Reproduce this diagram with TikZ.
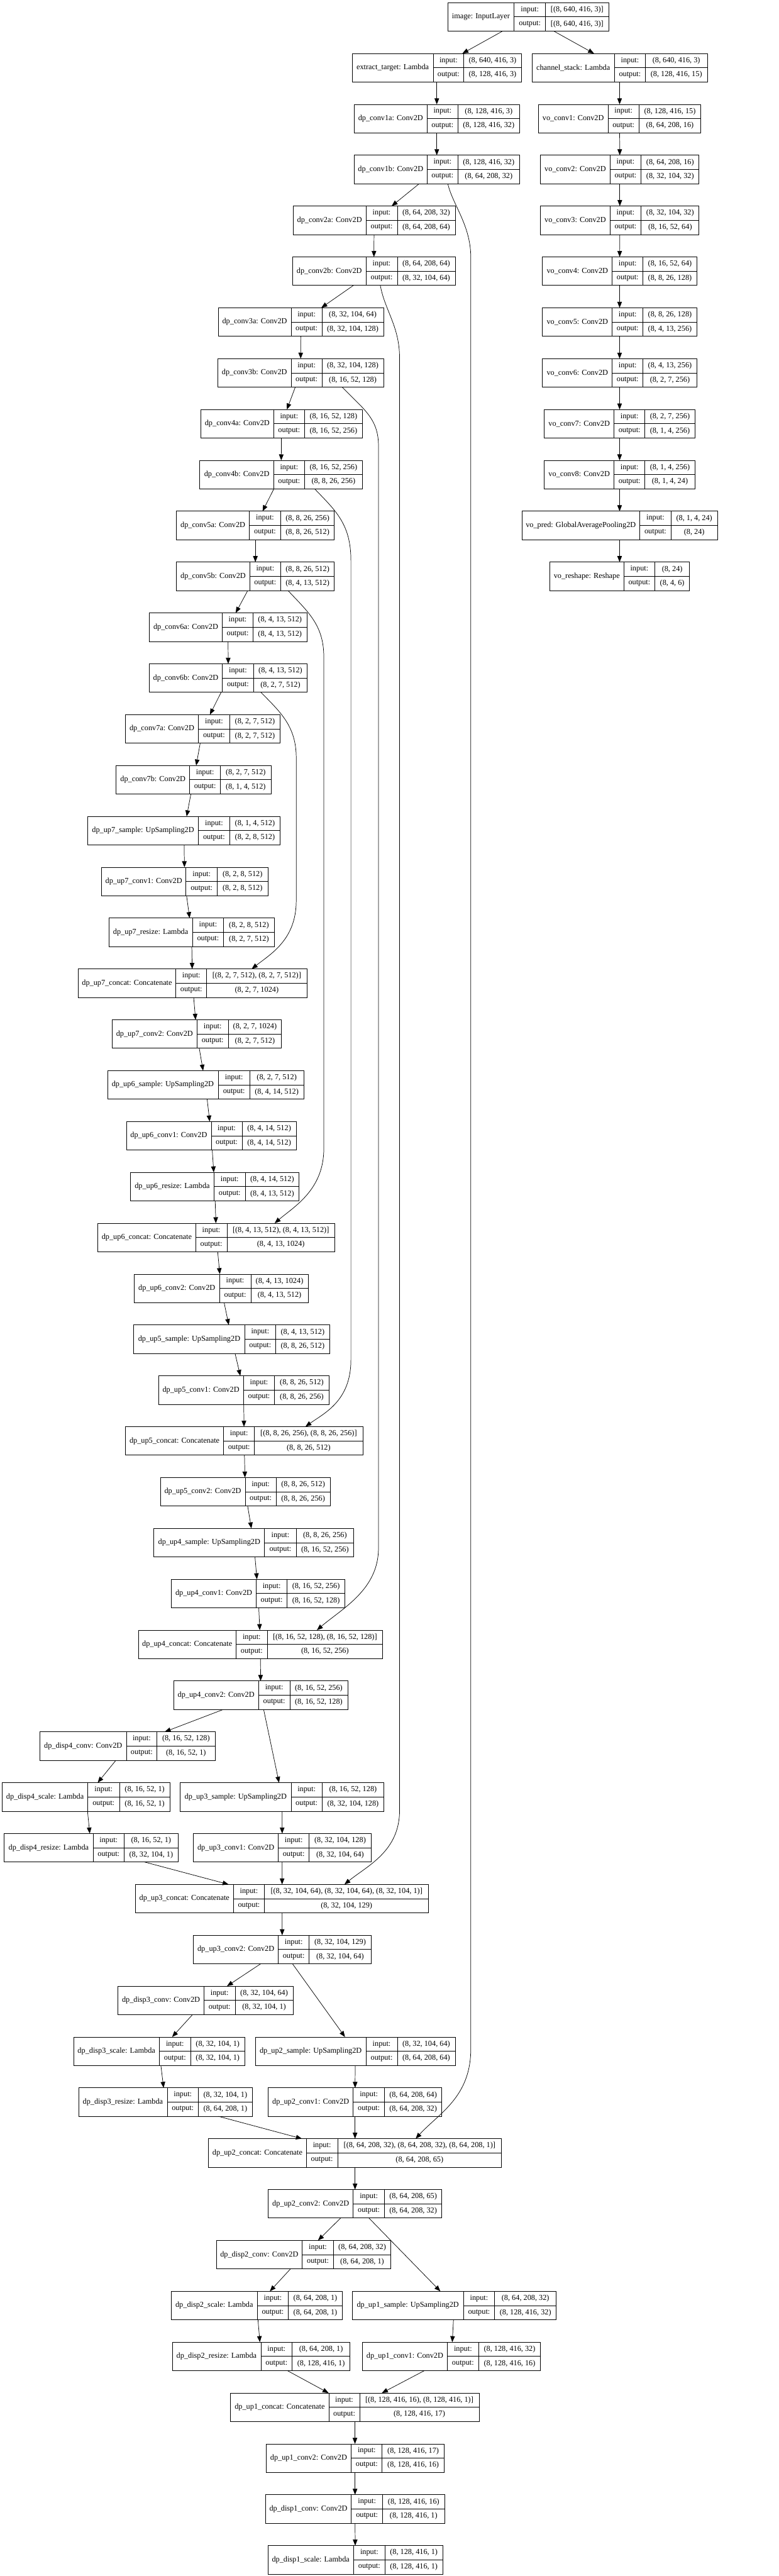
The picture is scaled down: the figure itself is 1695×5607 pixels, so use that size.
\documentclass[tikz,border=0pt]{standalone}
\usepackage{fontspec}
\setmainfont{Liberation Serif}
\usetikzlibrary{arrows.meta,calc}

\tikzset{
  kbox/.style={draw, line width=0.5pt, inner sep=0pt, outer sep=0pt, minimum height=31pt},
  ktxt/.style={inner sep=0pt, font=\fontsize{8.4pt}{10pt}\selectfont},
  arr/.style={-{Triangle[length=6.5pt,width=5pt]}, line width=0.5pt},
}

% name, row, left, split1, split2, right, label, input, output
\newcommand{\klayer}[9]{%
  \pgfmathsetmacro{\ktop}{5.7+110.7*#2}%
  \pgfmathsetmacro{\kmid}{\ktop+31}%
  \pgfmathsetmacro{\kbot}{\ktop+62}%
  \pgfmathsetmacro{\kup}{\ktop+15.5}%
  \pgfmathsetmacro{\kdn}{\ktop+46.5}%
  \node[kbox, minimum width={(#6-#3)*0.5pt}] (#1) at ({(#3+#6)/2},\kmid) {};
  \draw[line width=0.5pt] (#4,\ktop) -- (#4,\kbot) (#5,\ktop) -- (#5,\kbot) (#4,\kmid) -- (#6,\kmid);
  \node[ktxt] (#1-lbl) at ({(#3+#4)/2},\kmid) {#7};
  \node[ktxt] (#1-inl) at ({(#4+#5)/2},\kup) {input:};
  \node[ktxt] (#1-outl) at ({(#4+#5)/2},\kdn) {output:};
  \node[ktxt] (#1-in) at ({(#5+#6)/2},\kup) {#8};
  \node[ktxt] (#1-out) at ({(#5+#6)/2},\kdn) {#9};
}

\begin{document}
\begin{tikzpicture}[x=0.5pt, y=-0.5pt]
    \useasboundingbox (0,0) rectangle (1695,5607);

    \klayer{image}{0}{975}{1119}{1188}{1325}{image: InputLayer}{[(8, 640, 416, 3)]}{[(8, 640, 416, 3)]}
    \klayer{extract_target}{1}{767}{943}{1010}{1135}{extract\_target: Lambda}{(8, 640, 416, 3)}{(8, 128, 416, 3)}
    \klayer{channel_stack}{1}{1158}{1338}{1405}{1540}{channel\_stack: Lambda}{(8, 640, 416, 3)}{(8, 128, 416, 15)}
    \klayer{dp_conv1a}{2}{771}{930}{997}{1131}{dp\_conv1a: Conv2D}{(8, 128, 416, 3)}{(8, 128, 416, 32)}
    \klayer{vo_conv1}{2}{1172}{1324}{1391}{1526}{vo\_conv1: Conv2D}{(8, 128, 416, 15)}{(8, 64, 208, 16)}
    \klayer{dp_conv1b}{3}{771}{930}{997}{1131}{dp\_conv1b: Conv2D}{(8, 128, 416, 32)}{(8, 64, 208, 32)}
    \klayer{vo_conv2}{3}{1177}{1328}{1396}{1522}{vo\_conv2: Conv2D}{(8, 64, 208, 16)}{(8, 32, 104, 32)}
    \klayer{dp_conv2a}{4}{638}{797}{865}{991}{dp\_conv2a: Conv2D}{(8, 64, 208, 32)}{(8, 64, 208, 64)}
    \klayer{vo_conv3}{4}{1177}{1328}{1396}{1522}{vo\_conv3: Conv2D}{(8, 32, 104, 32)}{(8, 16, 52, 64)}
    \klayer{dp_conv2b}{5}{637}{797}{865}{991}{dp\_conv2b: Conv2D}{(8, 64, 208, 64)}{(8, 32, 104, 64)}
    \klayer{vo_conv4}{5}{1181}{1333}{1400}{1517}{vo\_conv4: Conv2D}{(8, 16, 52, 64)}{(8, 8, 26, 128)}
    \klayer{dp_conv3a}{6}{475}{634}{701}{835}{dp\_conv3a: Conv2D}{(8, 32, 104, 64)}{(8, 32, 104, 128)}
    \klayer{vo_conv5}{6}{1181}{1333}{1400}{1517}{vo\_conv5: Conv2D}{(8, 8, 26, 128)}{(8, 4, 13, 256)}
    \klayer{dp_conv3b}{7}{474}{634}{701}{835}{dp\_conv3b: Conv2D}{(8, 32, 104, 128)}{(8, 16, 52, 128)}
    \klayer{vo_conv6}{7}{1181}{1333}{1400}{1517}{vo\_conv6: Conv2D}{(8, 4, 13, 256)}{(8, 2, 7, 256)}
    \klayer{dp_conv4a}{8}{437}{596}{663}{789}{dp\_conv4a: Conv2D}{(8, 16, 52, 128)}{(8, 16, 52, 256)}
    \klayer{vo_conv7}{8}{1185}{1337}{1404}{1513}{vo\_conv7: Conv2D}{(8, 2, 7, 256)}{(8, 1, 4, 256)}
    \klayer{dp_conv4b}{9}{435}{596}{663}{789}{dp\_conv4b: Conv2D}{(8, 16, 52, 256)}{(8, 8, 26, 256)}
    \klayer{vo_conv8}{9}{1185}{1337}{1404}{1513}{vo\_conv8: Conv2D}{(8, 1, 4, 256)}{(8, 1, 4, 24)}
    \klayer{dp_conv5a}{10}{384}{543}{611}{728}{dp\_conv5a: Conv2D}{(8, 8, 26, 256)}{(8, 8, 26, 512)}
    \klayer{vo_pred}{10}{1136}{1393}{1461}{1562}{vo\_pred: GlobalAveragePooling2D}{(8, 1, 4, 24)}{(8, 24)}
    \klayer{dp_conv5b}{11}{384}{544}{611}{728}{dp\_conv5b: Conv2D}{(8, 8, 26, 512)}{(8, 4, 13, 512)}
    \klayer{vo_reshape}{11}{1197}{1358}{1426}{1501}{vo\_reshape: Reshape}{(8, 24)}{(8, 4, 6)}
    \klayer{dp_conv6a}{12}{325}{484}{551}{668}{dp\_conv6a: Conv2D}{(8, 4, 13, 512)}{(8, 4, 13, 512)}
    \klayer{dp_conv6b}{13}{325}{484}{552}{669}{dp\_conv6b: Conv2D}{(8, 4, 13, 512)}{(8, 2, 7, 512)}
    \klayer{dp_conv7a}{14}{273}{432}{500}{610}{dp\_conv7a: Conv2D}{(8, 2, 7, 512)}{(8, 2, 7, 512)}
    \klayer{dp_conv7b}{15}{253}{413}{480}{590}{dp\_conv7b: Conv2D}{(8, 2, 7, 512)}{(8, 1, 4, 512)}
    \klayer{dp_up7_sample}{16}{191}{432}{500}{610}{dp\_up7\_sample: UpSampling2D}{(8, 1, 4, 512)}{(8, 2, 8, 512)}
    \klayer{dp_up7_conv1}{17}{221}{405}{473}{583}{dp\_up7\_conv1: Conv2D}{(8, 2, 8, 512)}{(8, 2, 8, 512)}
    \klayer{dp_up7_resize}{18}{237}{419}{487}{597}{dp\_up7\_resize: Lambda}{(8, 2, 8, 512)}{(8, 2, 7, 512)}
    \klayer{dp_up7_concat}{19}{170}{383}{450}{668}{dp\_up7\_concat: Concatenate}{[(8, 2, 7, 512), (8, 2, 7, 512)]}{(8, 2, 7, 1024)}
    \klayer{dp_up7_conv2}{20}{244}{429}{497}{613}{dp\_up7\_conv2: Conv2D}{(8, 2, 7, 1024)}{(8, 2, 7, 512)}
    \klayer{dp_up6_sample}{21}{234}{475}{544}{661}{dp\_up6\_sample: UpSampling2D}{(8, 2, 7, 512)}{(8, 4, 14, 512)}
    \klayer{dp_up6_conv1}{22}{275}{460}{527}{645}{dp\_up6\_conv1: Conv2D}{(8, 4, 14, 512)}{(8, 4, 14, 512)}
    \klayer{dp_up6_resize}{23}{284}{466}{534}{651}{dp\_up6\_resize: Lambda}{(8, 4, 14, 512)}{(8, 4, 13, 512)}
    \klayer{dp_up6_concat}{24}{213}{426}{494}{729}{dp\_up6\_concat: Concatenate}{[(8, 4, 13, 512), (8, 4, 13, 512)]}{(8, 4, 13, 1024)}
    \klayer{dp_up6_conv2}{25}{292}{478}{546}{671}{dp\_up6\_conv2: Conv2D}{(8, 4, 13, 1024)}{(8, 4, 13, 512)}
    \klayer{dp_up5_sample}{26}{291}{533}{600}{718}{dp\_up5\_sample: UpSampling2D}{(8, 4, 13, 512)}{(8, 8, 26, 512)}
    \klayer{dp_up5_conv1}{27}{345}{530}{598}{716}{dp\_up5\_conv1: Conv2D}{(8, 8, 26, 512)}{(8, 8, 26, 256)}
    \klayer{dp_up5_concat}{28}{273}{487}{554}{790}{dp\_up5\_concat: Concatenate}{[(8, 8, 26, 256), (8, 8, 26, 256)]}{(8, 8, 26, 512)}
    \klayer{dp_up5_conv2}{29}{349}{534}{601}{719}{dp\_up5\_conv2: Conv2D}{(8, 8, 26, 512)}{(8, 8, 26, 256)}
    \klayer{dp_up4_sample}{30}{335}{576}{645}{770}{dp\_up4\_sample: UpSampling2D}{(8, 8, 26, 256)}{(8, 16, 52, 256)}
    \klayer{dp_up4_conv1}{31}{373}{558}{625}{751}{dp\_up4\_conv1: Conv2D}{(8, 16, 52, 256)}{(8, 16, 52, 128)}
    \klayer{dp_up4_concat}{32}{301}{514}{582}{833}{dp\_up4\_concat: Concatenate}{[(8, 16, 52, 128), (8, 16, 52, 128)]}{(8, 16, 52, 256)}
    \klayer{dp_up4_conv2}{33}{378}{563}{631}{757}{dp\_up4\_conv2: Conv2D}{(8, 16, 52, 256)}{(8, 16, 52, 128)}
    \klayer{dp_disp4_conv}{34}{87}{275}{342}{468}{dp\_disp4\_conv: Conv2D}{(8, 16, 52, 128)}{(8, 16, 52, 1)}
    \klayer{dp_disp4_scale}{35}{5}{191}{260}{370}{dp\_disp4\_scale: Lambda}{(8, 16, 52, 1)}{(8, 16, 52, 1)}
    \klayer{dp_up3_sample}{35}{392}{634}{701}{836}{dp\_up3\_sample: UpSampling2D}{(8, 16, 52, 128)}{(8, 32, 104, 128)}
    \klayer{dp_disp4_resize}{36}{9}{203}{270}{388}{dp\_disp4\_resize: Lambda}{(8, 16, 52, 1)}{(8, 32, 104, 1)}
    \klayer{dp_up3_conv1}{36}{421}{606}{673}{808}{dp\_up3\_conv1: Conv2D}{(8, 32, 104, 128)}{(8, 32, 104, 64)}
    \klayer{dp_up3_concat}{37}{295}{508}{576}{933}{dp\_up3\_concat: Concatenate}{[(8, 32, 104, 64), (8, 32, 104, 64), (8, 32, 104, 1)]}{(8, 32, 104, 129)}
    \klayer{dp_up3_conv2}{38}{421}{606}{673}{808}{dp\_up3\_conv2: Conv2D}{(8, 32, 104, 129)}{(8, 32, 104, 64)}
    \klayer{dp_disp3_conv}{39}{257}{444}{512}{638}{dp\_disp3\_conv: Conv2D}{(8, 32, 104, 64)}{(8, 32, 104, 1)}
    \klayer{dp_disp3_scale}{40}{160}{347}{415}{533}{dp\_disp3\_scale: Lambda}{(8, 32, 104, 1)}{(8, 32, 104, 1)}
    \klayer{dp_up2_sample}{40}{556}{797}{865}{991}{dp\_up2\_sample: UpSampling2D}{(8, 32, 104, 64)}{(8, 64, 208, 64)}
    \klayer{dp_disp3_resize}{41}{171}{364}{432}{549}{dp\_disp3\_resize: Lambda}{(8, 32, 104, 1)}{(8, 64, 208, 1)}
    \klayer{dp_up2_conv1}{41}{584}{769}{837}{962}{dp\_up2\_conv1: Conv2D}{(8, 64, 208, 64)}{(8, 64, 208, 32)}
    \klayer{dp_up2_concat}{42}{454}{667}{735}{1092}{dp\_up2\_concat: Concatenate}{[(8, 64, 208, 32), (8, 64, 208, 32), (8, 64, 208, 1)]}{(8, 64, 208, 65)}
    \klayer{dp_up2_conv2}{43}{584}{769}{837}{962}{dp\_up2\_conv2: Conv2D}{(8, 64, 208, 65)}{(8, 64, 208, 32)}
    \klayer{dp_disp2_conv}{44}{471}{658}{726}{851}{dp\_disp2\_conv: Conv2D}{(8, 64, 208, 32)}{(8, 64, 208, 1)}
    \klayer{dp_disp2_scale}{45}{373}{560}{628}{745}{dp\_disp2\_scale: Lambda}{(8, 64, 208, 1)}{(8, 64, 208, 1)}
    \klayer{dp_up1_sample}{45}{767}{1009}{1077}{1211}{dp\_up1\_sample: UpSampling2D}{(8, 64, 208, 32)}{(8, 128, 416, 32)}
    \klayer{dp_disp2_resize}{46}{375}{568}{636}{762}{dp\_disp2\_resize: Lambda}{(8, 64, 208, 1)}{(8, 128, 416, 1)}
    \klayer{dp_up1_conv1}{46}{789}{974}{1042}{1177}{dp\_up1\_conv1: Conv2D}{(8, 128, 416, 32)}{(8, 128, 416, 16)}
    \klayer{dp_up1_concat}{47}{502}{716}{783}{1043}{dp\_up1\_concat: Concatenate}{[(8, 128, 416, 16), (8, 128, 416, 1)]}{(8, 128, 416, 17)}
    \klayer{dp_up1_conv2}{48}{579}{765}{832}{967}{dp\_up1\_conv2: Conv2D}{(8, 128, 416, 17)}{(8, 128, 416, 16)}
    \klayer{dp_disp1_conv}{49}{578}{765}{833}{968}{dp\_disp1\_conv: Conv2D}{(8, 128, 416, 16)}{(8, 128, 416, 1)}
    \klayer{dp_disp1_scale}{50}{583}{770}{838}{964}{dp\_disp1\_scale: Lambda}{(8, 128, 416, 1)}{(8, 128, 416, 1)}

    \draw[arr] (image) -- (extract_target);
    \draw[arr] (image) -- (channel_stack);
    \draw[arr] (extract_target) -- (dp_conv1a);
    \draw[arr] (dp_conv1a) -- (dp_conv1b);
    \draw[arr] (dp_conv1b) -- (dp_conv2a);
    \draw[arr] (dp_conv2a) -- (dp_conv2b);
    \draw[arr] (dp_conv2b) -- (dp_conv3a);
    \draw[arr] (dp_conv3a) -- (dp_conv3b);
    \draw[arr] (dp_conv3b) -- (dp_conv4a);
    \draw[arr] (dp_conv4a) -- (dp_conv4b);
    \draw[arr] (dp_conv4b) -- (dp_conv5a);
    \draw[arr] (dp_conv5a) -- (dp_conv5b);
    \draw[arr] (dp_conv5b) -- (dp_conv6a);
    \draw[arr] (dp_conv6a) -- (dp_conv6b);
    \draw[arr] (dp_conv6b) -- (dp_conv7a);
    \draw[arr] (dp_conv7a) -- (dp_conv7b);
    \draw[arr] (dp_conv7b) -- (dp_up7_sample);
    \draw[arr] (dp_up7_sample) -- (dp_up7_conv1);
    \draw[arr] (dp_up7_conv1) -- (dp_up7_resize);
    \draw[arr] (dp_up7_resize) -- (dp_up7_concat);
    \draw[arr] (dp_up7_concat) -- (dp_up7_conv2);
    \draw[arr] (dp_up7_conv2) -- (dp_up6_sample);
    \draw[arr] (dp_up6_sample) -- (dp_up6_conv1);
    \draw[arr] (dp_up6_conv1) -- (dp_up6_resize);
    \draw[arr] (dp_up6_resize) -- (dp_up6_concat);
    \draw[arr] (dp_up6_concat) -- (dp_up6_conv2);
    \draw[arr] (dp_up6_conv2) -- (dp_up5_sample);
    \draw[arr] (dp_up5_sample) -- (dp_up5_conv1);
    \draw[arr] (dp_up5_conv1) -- (dp_up5_concat);
    \draw[arr] (dp_up5_concat) -- (dp_up5_conv2);
    \draw[arr] (dp_up5_conv2) -- (dp_up4_sample);
    \draw[arr] (dp_up4_sample) -- (dp_up4_conv1);
    \draw[arr] (dp_up4_conv1) -- (dp_up4_concat);
    \draw[arr] (dp_up4_concat) -- (dp_up4_conv2);
    \draw[arr] (dp_up4_conv2) -- (dp_disp4_conv);
    \draw[arr] (dp_up4_conv2) -- (dp_up3_sample);
    \draw[arr] (dp_disp4_conv) -- (dp_disp4_scale);
    \draw[arr] (dp_disp4_scale) -- (dp_disp4_resize);
    \draw[arr] (dp_disp4_resize) -- (dp_up3_concat);
    \draw[arr] (dp_up3_sample) -- (dp_up3_conv1);
    \draw[arr] (dp_up3_conv1) -- (dp_up3_concat);
    \draw[arr] (dp_up3_concat) -- (dp_up3_conv2);
    \draw[arr] (dp_up3_conv2) -- (dp_disp3_conv);
    \draw[arr] (dp_up3_conv2) -- (dp_up2_sample);
    \draw[arr] (dp_disp3_conv) -- (dp_disp3_scale);
    \draw[arr] (dp_disp3_scale) -- (dp_disp3_resize);
    \draw[arr] (dp_disp3_resize) -- (dp_up2_concat);
    \draw[arr] (dp_up2_sample) -- (dp_up2_conv1);
    \draw[arr] (dp_up2_conv1) -- (dp_up2_concat);
    \draw[arr] (dp_up2_concat) -- (dp_up2_conv2);
    \draw[arr] (dp_up2_conv2) -- (dp_disp2_conv);
    \draw[arr] (dp_up2_conv2) -- (dp_up1_sample);
    \draw[arr] (dp_disp2_conv) -- (dp_disp2_scale);
    \draw[arr] (dp_disp2_scale) -- (dp_disp2_resize);
    \draw[arr] (dp_disp2_resize) -- (dp_up1_concat);
    \draw[arr] (dp_up1_sample) -- (dp_up1_conv1);
    \draw[arr] (dp_up1_conv1) -- (dp_up1_concat);
    \draw[arr] (dp_up1_concat) -- (dp_up1_conv2);
    \draw[arr] (dp_up1_conv2) -- (dp_disp1_conv);
    \draw[arr] (dp_disp1_conv) -- (dp_disp1_scale);
    \draw[arr] (channel_stack) -- (vo_conv1);
    \draw[arr] (vo_conv1) -- (vo_conv2);
    \draw[arr] (vo_conv2) -- (vo_conv3);
    \draw[arr] (vo_conv3) -- (vo_conv4);
    \draw[arr] (vo_conv4) -- (vo_conv5);
    \draw[arr] (vo_conv5) -- (vo_conv6);
    \draw[arr] (vo_conv6) -- (vo_conv7);
    \draw[arr] (vo_conv7) -- (vo_conv8);
    \draw[arr] (vo_conv8) -- (vo_pred);
    \draw[arr] (vo_pred) -- (vo_reshape);

    % skip connections
    \coordinate (skip1a) at (1025,560);
    \coordinate (skip1b) at (1025,4460);
    \coordinate (skip2a) at (870,780);
    \coordinate (skip2b) at (870,3940);
    \coordinate (skip3a) at (824,970);
    \coordinate (skip3b) at (824,3370);
    \coordinate (skip4a) at (764,1220);
    \coordinate (skip4b) at (764,2960);
    \coordinate (skip5a) at (705,1430);
    \coordinate (skip5b) at (705,2500);
    \coordinate (skip6a) at (645,1650);
    \coordinate (skip6b) at (645,1960);
    \draw[arr] ($(dp_conv1b.south)+(24,0)$) .. controls +(10,45) and +(0,-70) .. (skip1a) -- (skip1b) .. controls +(0,105) and +(50,-55) .. ($(dp_up2_concat.north)+(132,0)$);
    \draw[arr] ($(dp_conv2b.south)+(14,0)$) .. controls +(10,55) and +(0,-70) .. (skip2a) -- (skip2b) .. controls +(0,90) and +(50,-41) .. ($(dp_up3_concat.north)+(136,0)$);
    \draw[arr] ($(dp_conv3b.south)+(90.5,0)$) .. controls +(45,47) and +(0,-60) .. (skip3a) -- (skip3b) .. controls +(0,90) and +(55,-47) .. ($(dp_up4_concat.north)+(123,0)$);
    \draw[arr] ($(dp_conv4b.south)+(73,0)$) .. controls +(45,47) and +(0,-80) .. (skip4a) -- (skip4b) .. controls +(0,90) and +(40,-29) .. ($(dp_up5_concat.north)+(133.5,0)$);
    \draw[arr] ($(dp_conv5b.south)+(71,0)$) .. controls +(43,46) and +(0,-70) .. (skip5a) -- (skip5b) .. controls +(0,90) and +(42,-36) .. ($(dp_up6_concat.north)+(127,0)$);
    \draw[arr] ($(dp_conv6b.south)+(71,0)$) .. controls +(42,43) and +(0,-70) .. (skip6a) -- (skip6b) .. controls +(0,85) and +(42,-33) .. ($(dp_up7_concat.north)+(129,0)$);
\end{tikzpicture}
\end{document}
